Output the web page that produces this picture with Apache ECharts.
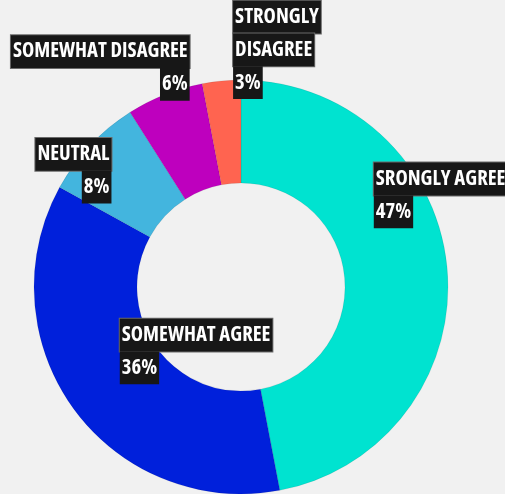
<!DOCTYPE html>
<html>
<head>
<meta charset="utf-8">
<script src="https://cdn.jsdelivr.net/npm/echarts@6/dist/echarts.min.js"></script>
<style>
  html, body { margin: 0; padding: 0; background: #f1f1f1; }
  #chart { width: 505px; height: 494px; }
</style>
</head>
<body>
<div id="chart"></div>
<script>
// answers, clockwise from 12 o'clock
const categories = ['SRONGLY AGREE', 'SOMEWHAT AGREE', 'NEUTRAL', 'SOMEWHAT DISAGREE', 'STRONGLY\nDISAGREE']
const values = [47, 36, 8, 6, 3]
const colors = ['#00e3d0', '#0020db', '#43b5de', '#be00be', '#ff6450']

// label box corner (top-left or top-right) relative to the slice mid point
const labelPlace = [
  { h: 'left', dx: -25, dy: -109 },
  { h: 'left', dx: 7, dy: -61 },
  { h: 'right', dx: -14, dy: -40 },
  { h: 'right', dx: 7, dy: -104 },
  { h: 'left', dx: 7, dy: -128 }
]

// no Bebas here, so pick the narrowest installed face and size it
// so "SOMEWHAT DISAGREE" is about as wide as in the original
const ctx = document.createElement('canvas').getContext('2d')
const faces = ["'Noto Sans'", "'Open Sans'", "'DejaVu Sans'", "'Liberation Sans Narrow'", 'Roboto', 'Lato', 'Inter']
const stretches = ['ultra-condensed', 'extra-condensed', 'condensed']
let best = { w: Infinity }
faces.forEach(f => {
  stretches.forEach(st => {
    ctx.font = 'bold ' + st + ' 20px ' + f
    const w = ctx.measureText('SOMEWHAT DISAGREE').width
    if (w < best.w - 0.5) best = { w, f, st }
  })
})
const fontSize = Math.min(26, Math.round(20 * 175 / best.w * 10) / 10)
const padV = (32.5 - fontSize) / 2

const box = {
  color: '#fff',
  backgroundColor: '#171717',
  fontFamily: best.f,
  fontWeight: 'bold ' + best.st,
  fontSize: fontSize,
  padding: [padV, 2]
}

const chart = echarts.init(document.getElementById('chart'))

chart.setOption({
  backgroundColor: '#f1f1f1',
  animation: false,
  series: [
    {
      type: 'pie',
      center: [241, 287],
      radius: [104, 207],
      startAngle: 90,
      clockwise: true,
      itemStyle: { borderColor: 'rgba(0,0,0,0.08)', borderWidth: 1 },
      labelLine: { show: false },
      label: {
        show: true,
        position: 'inside',
        formatter: p => {
          const right = labelPlace[p.dataIndex].h === 'right'
          return '{n|' + p.name + '}\n{' + (right ? 'pr' : 'p') + '|' + p.value + '%}'
        },
        rich: {
          n: { ...box, borderColor: '#6a6a6a', borderWidth: 1 },
          p: { ...box },
          pr: { ...box, align: 'right' }
        }
      },
      labelLayout: params => {
        const s = labelPlace[params.dataIndex]
        const r = params.labelRect
        return {
          x: r.x + r.width / 2 + s.dx,
          y: r.y + r.height / 2 + s.dy,
          align: s.h,
          verticalAlign: 'top'
        }
      },
      emphasis: { disabled: true },
      data: categories.map((name, i) => ({
        name,
        value: values[i],
        itemStyle: { color: colors[i] }
      }))
    }
  ]
})
</script>
</body>
</html>
